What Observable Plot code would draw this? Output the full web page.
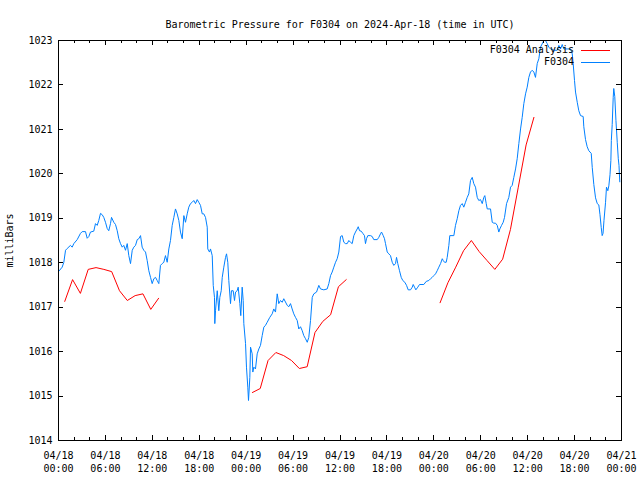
<!DOCTYPE html>
<html>
<head>
<meta charset="utf-8">
<script src="https://cdn.jsdelivr.net/npm/d3@7"></script>
<script src="https://cdn.jsdelivr.net/npm/@observablehq/plot@0.6"></script>
<style>
  body { margin: 0; background: #fff; }
  #wrap { position: relative; width: 640px; height: 480px; font-family: "DejaVu Sans Mono", monospace; font-size: 10px; color: #000; }
  .lg-row { position: absolute; right: 30px; height: 12px; display: flex; align-items: center; gap: 7px; }
  .lg-row span { line-height: 12px; white-space: pre; }
  .lg-row i { display: block; width: 29px; height: 1px; }
</style>
</head>
<body>
<div id="wrap"></div>
<script>
const titleText = "Barometric Pressure for F0304 on 2024-Apr-18 (time in UTC)";
const yLabel = "milliBars";
const startTime = Date.UTC(2024, 3, 18, 0, 0, 0);
const spanHours = 72;

// F0304 observations: hours after 04/18 00:00 UTC, pressure in mbar
const obsHours = [0.00,0.47,0.68,0.90,1.11,1.53,1.75,1.96,2.39,2.81,3.03,3.45,3.67,3.88,4.09,4.51,4.73,4.95,5.15,5.37,5.59,5.79,6.01,6.23,6.43,6.65,6.78,7.07,7.29,7.51,7.71,7.93,8.15,8.35,8.57,8.79,8.99,9.21,9.43,9.63,9.85,10.07,10.27,10.49,10.70,10.91,11.13,11.34,11.55,11.77,11.98,12.19,12.41,12.62,12.83,13.04,13.26,13.47,13.68,13.90,14.11,14.32,14.54,14.75,14.96,15.18,15.39,15.60,15.82,16.03,16.24,16.46,16.66,16.88,17.10,17.30,17.52,17.74,17.94,18.16,18.38,18.58,18.80,19.02,19.09,19.31,19.44,19.66,19.79,19.95,19.99,20.08,20.30,20.50,20.63,20.81,20.94,21.14,21.36,21.49,21.65,21.78,22.00,22.12,22.34,22.51,22.64,22.85,22.98,23.19,23.31,23.49,23.62,23.70,23.92,24.04,24.21,24.30,24.47,24.56,24.77,24.85,24.98,25.19,25.41,25.62,25.83,26.05,26.26,26.47,26.69,27.02,27.33,27.53,27.75,27.97,28.17,28.39,28.61,28.81,29.25,29.45,29.67,29.88,30.09,30.31,30.53,30.73,30.95,31.17,31.37,31.59,31.81,32.01,32.23,32.45,32.65,33.00,33.29,33.51,33.93,34.36,34.57,34.79,35.00,35.21,35.43,35.64,35.85,36.07,36.28,36.49,36.70,36.92,37.13,37.34,37.56,37.77,37.98,38.20,38.33,38.50,38.71,38.92,39.13,39.26,39.39,39.56,39.90,40.12,40.32,40.76,40.96,41.18,41.31,41.53,41.69,41.82,42.04,42.24,42.46,42.68,42.88,43.10,43.23,43.39,43.61,43.83,44.03,44.29,44.51,44.72,45.02,45.24,45.36,45.53,45.70,45.95,46.17,46.72,47.03,47.36,47.58,47.79,48.00,48.22,48.43,48.64,48.86,49.08,49.20,49.37,49.58,49.71,49.92,50.04,50.56,50.77,50.99,51.20,51.41,51.63,51.83,52.05,52.27,52.47,52.69,52.91,53.11,53.33,53.55,53.75,53.97,54.19,54.39,54.52,54.70,54.83,55.25,55.47,55.67,55.89,56.11,56.31,56.44,56.66,56.87,57.04,57.30,57.59,57.81,58.02,58.23,58.45,58.66,58.87,59.09,59.30,59.51,59.73,59.94,60.15,60.36,60.58,60.79,61.00,61.22,61.43,61.64,62.07,62.28,62.50,62.71,62.92,63.35,63.78,63.99,64.20,64.42,64.62,65.48,65.70,65.82,65.99,66.12,66.34,66.54,66.76,67.10,67.18,67.40,67.61,67.82,68.13,68.26,68.46,68.68,68.90,69.10,69.25,69.41,69.53,69.64,69.76,69.96,70.08,70.25,70.38,70.53,70.64,70.70,70.81,70.94,71.01,71.14,71.29,71.46,71.59,71.68,71.78];
const obsPressure = [1017.80,1017.90,1018.01,1018.28,1018.32,1018.39,1018.35,1018.43,1018.52,1018.66,1018.70,1018.70,1018.55,1018.59,1018.69,1018.71,1018.88,1018.84,1018.95,1019.11,1019.08,1019.02,1018.91,1018.77,1018.72,1018.88,1019.02,1018.91,1018.86,1018.72,1018.54,1018.43,1018.35,1018.39,1018.28,1018.43,1018.16,1017.98,1018.28,1018.35,1018.39,1018.52,1018.54,1018.61,1018.35,1018.28,1018.24,1018.05,1017.82,1017.67,1017.53,1017.64,1017.67,1017.60,1017.53,1017.94,1017.98,1018.01,1018.16,1018.01,1018.31,1018.50,1018.84,1019.02,1019.21,1019.10,1018.95,1018.69,1018.54,1019.06,1018.91,1019.10,1019.25,1019.33,1019.36,1019.40,1019.33,1019.42,1019.36,1019.29,1019.10,1019.10,1019.02,1018.80,1018.31,1018.24,1018.31,1018.16,1017.49,1017.22,1016.63,1016.92,1017.37,1016.92,1017.22,1017.37,1017.67,1017.90,1018.12,1018.20,1018.01,1017.60,1017.08,1017.37,1017.37,1017.15,1017.34,1017.37,1017.45,1017.08,1016.81,1017.45,1017.15,1016.63,1016.18,1015.65,1015.20,1014.90,1015.42,1016.10,1015.95,1015.54,1015.65,1015.61,1015.95,1016.06,1016.14,1016.36,1016.55,1016.59,1016.66,1016.77,1016.85,1016.96,1016.89,1017.30,1017.08,1017.15,1017.11,1017.19,1017.04,1017.01,1017.08,1016.96,1016.85,1016.77,1016.70,1016.51,1016.56,1016.47,1016.36,1016.29,1016.21,1016.32,1016.70,1017.22,1017.30,1017.34,1017.49,1017.41,1017.39,1017.41,1017.53,1017.71,1017.79,1017.90,1018.01,1018.09,1018.24,1018.59,1018.61,1018.46,1018.43,1018.43,1018.50,1018.46,1018.43,1018.61,1018.69,1018.76,1018.81,1018.72,1018.71,1018.66,1018.61,1018.43,1018.54,1018.61,1018.61,1018.59,1018.52,1018.52,1018.57,1018.65,1018.69,1018.61,1018.54,1018.43,1018.24,1018.20,1018.16,1018.01,1017.94,1017.98,1018.12,1017.98,1017.82,1017.67,1017.60,1017.56,1017.49,1017.39,1017.39,1017.45,1017.51,1017.45,1017.39,1017.45,1017.51,1017.51,1017.58,1017.60,1017.64,1017.67,1017.71,1017.75,1017.82,1017.90,1017.98,1018.09,1018.05,1018.01,1018.01,1018.12,1018.39,1018.61,1018.61,1018.84,1018.99,1019.17,1019.29,1019.33,1019.25,1019.36,1019.47,1019.55,1019.85,1019.92,1019.78,1019.70,1019.47,1019.40,1019.42,1019.33,1019.47,1019.51,1019.33,1019.21,1019.21,1018.91,1018.89,1018.89,1018.84,1018.69,1018.76,1018.84,1018.91,1019.02,1019.33,1019.47,1019.70,1019.74,1019.92,1020.11,1020.34,1020.68,1021.01,1021.27,1021.58,1021.80,1021.95,1022.17,1022.29,1022.33,1022.29,1022.17,1022.48,1022.59,1022.85,1023.00,1023.00,1022.93,1022.85,1022.81,1022.78,1022.78,1022.89,1022.81,1022.91,1022.81,1022.81,1022.70,1022.48,1022.10,1021.84,1021.61,1021.42,1021.31,1021.29,1021.06,1020.77,1020.61,1020.52,1020.46,1020.14,1019.76,1019.46,1019.33,1019.30,1019.08,1018.79,1018.61,1018.66,1018.95,1019.36,1019.70,1019.62,1019.73,1019.98,1020.30,1020.75,1021.11,1021.72,1021.92,1021.74,1021.20,1020.70,1020.34,1020.19,1019.82];

// F0304 Analysis: three runs, hourly
const analysisRun = [1,1,1,1,1,1,1,1,1,1,1,1,1, 2,2,2,2,2,2,2,2,2,2,2,2,2, 3,3,3,3,3,3,3,3,3,3,3,3,3];
const analysisHours = [0.8,1.8,2.8,3.8,4.8,5.8,6.8,7.8,8.8,9.8,10.8,11.8,12.8,
  24.8,25.8,26.8,27.8,28.8,29.8,30.8,31.8,32.8,33.8,34.8,35.8,36.8,
  48.8,49.8,50.8,51.8,52.8,53.8,54.8,55.8,56.8,57.8,58.8,59.8,60.8];
const analysisPressure = [1017.13,1017.62,1017.31,1017.85,1017.89,1017.85,1017.80,1017.37,1017.15,1017.26,1017.30,1016.95,1017.20,
  1015.08,1015.17,1015.80,1015.98,1015.91,1015.80,1015.62,1015.66,1016.43,1016.68,1016.83,1017.46,1017.62,
  1017.10,1017.55,1017.90,1018.27,1018.50,1018.25,1018.05,1017.85,1018.08,1018.75,1019.70,1020.65,1021.27];

const yTicks = [1014,1015,1016,1017,1018,1019,1020,1021,1022,1023];
const majorTickHours = [0,6,12,18,24,30,36,42,48,54,60,66,72];
const minorTickHours = [2,4,8,10,14,16,20,22,26,28,32,34,38,40,44,46,50,52,56,58,62,64,68,70];

const seriesNames = ["F0304 Analysis", "F0304"];
const seriesColors = ["rgb(255,0,0)", "rgb(0,128,255)"];

const toDate = h => new Date(startTime + h * 3600e3);
const obs = obsHours.map((h, i) => ({t: toDate(h), v: obsPressure[i]}));
const analysis = analysisHours.map((h, i) => ({t: toDate(h), v: analysisPressure[i], run: analysisRun[i]}));
const majorTicks = majorTickHours.map(toDate);
const minorTicks = minorTickHours.map(toDate);

const W = 640, H = 480, mL = 58, mR = 19, mT = 40, mB = 40;
const innerW = W - mL - mR, innerH = H - mT - mB;
const majorLen = 5, minorLen = 3;
const crisp = {shapeRendering: "crispEdges"};

const chart = Plot.plot({
  width: W, height: H,
  marginLeft: mL, marginRight: mR, marginTop: mT, marginBottom: mB,
  style: {fontFamily: "'DejaVu Sans Mono', monospace", fontSize: "10px", color: "#000", background: "#fff"},
  x: {type: "utc", domain: [toDate(0), toDate(spanHours)]},
  y: {domain: [1014, 1023]},
  marks: [
    Plot.line(analysis, {x: "t", y: "v", z: "run", stroke: seriesColors[0], strokeWidth: 1}),
    Plot.line(obs, {x: "t", y: "v", stroke: seriesColors[1], strokeWidth: 1}),
    Plot.frame({stroke: "#000", ...crisp}),
    Plot.tickX(majorTicks, {x: d => d, insetTop: innerH - majorLen, stroke: "#000", ...crisp}),
    Plot.tickX(majorTicks, {x: d => d, insetBottom: innerH - majorLen, stroke: "#000", ...crisp}),
    Plot.tickX(minorTicks, {x: d => d, insetTop: innerH - minorLen, stroke: "#000", ...crisp}),
    Plot.tickX(minorTicks, {x: d => d, insetBottom: innerH - minorLen, stroke: "#000", ...crisp}),
    Plot.tickY(yTicks, {y: d => d, insetRight: innerW - majorLen, stroke: "#000", ...crisp}),
    Plot.tickY(yTicks, {y: d => d, insetLeft: innerW - majorLen, stroke: "#000", ...crisp}),
    Plot.axisX(majorTicks, {tickSize: 0, tickPadding: 9, lineHeight: 1.3, tickFormat: d3.utcFormat("%m/%d\n%H:%M"), label: null}),
    Plot.axisY(yTicks, {tickSize: 0, tickPadding: 6, tickFormat: d => String(d), label: yLabel, labelAnchor: "center", labelArrow: "none", labelOffset: 53}),
    Plot.text([titleText], {text: d => d, frameAnchor: "top", dy: -20})
  ]
});

const wrap = document.getElementById("wrap");
wrap.appendChild(chart);

// legend (top right, inside the plot): text then a colour sample
const legendTops = [44, 56];
seriesNames.forEach((name, i) => {
  const row = document.createElement("div");
  row.className = "lg-row";
  row.style.top = legendTops[i] + "px";
  const s = document.createElement("span");
  s.textContent = name;
  const sw = document.createElement("i");
  sw.style.backgroundColor = seriesColors[i];
  row.appendChild(s);
  row.appendChild(sw);
  wrap.appendChild(row);
});
</script>
</body>
</html>
